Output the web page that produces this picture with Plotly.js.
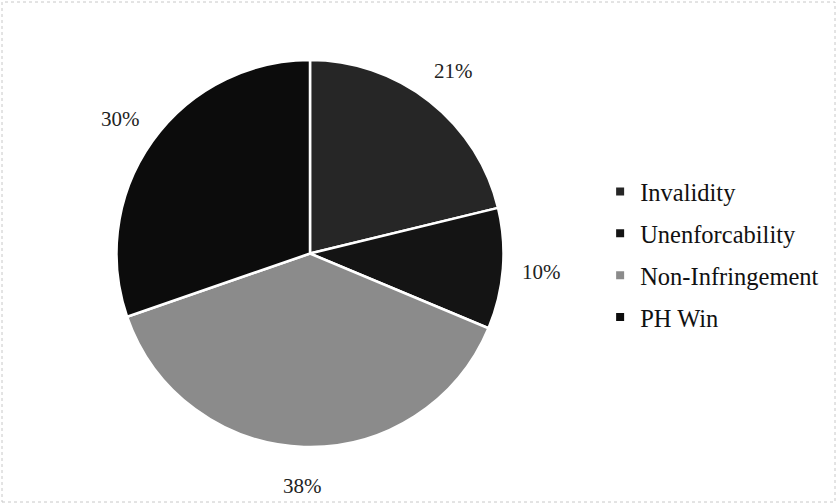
<!DOCTYPE html>
<html>
<head>
<meta charset="utf-8">
<script src="https://cdn.plot.ly/plotly-3.0.1.min.js"></script>
<style>html,body{margin:0;padding:0;background:#fff;}#chart{width:837px;height:504px;}</style>
</head>
<body>
<div id="chart"></div>
<script>
const categories = ["Invalidity", "Unenforcability", "Non-Infringement", "PH Win"];
const shares = [21, 10, 38, 30];
const sliceColors = ["#262626", "#141414", "#8b8b8b", "#0c0c0c"];

const W = 837, H = 504;
const cx = 310, cy = 253.5, R = 193.5;
const domX = [(cx - R) / W, (cx + R) / W];
const domY = [(H - cy - R) / H, (H - cy + R) / H];
const serif = "Liberation Serif, Times New Roman, serif";

const total = shares.reduce((a, b) => a + b, 0);
let cum = 0;
const labelR = R * 1.2;
const annotations = shares.map((v, i) => {
  const mid = (cum + v / 2) / total * 2 * Math.PI;
  cum += v;
  const px = cx + labelR * Math.sin(mid);
  const py = cy - labelR * Math.cos(mid);
  return {
    x: px / W, y: 1 - py / H, xref: "paper", yref: "paper",
    text: Math.round(v / total * 100) + "%",
    showarrow: false, xanchor: "center", yanchor: "middle",
    font: {family: serif, size: 21, color: "#222"}
  };
});

const pieTrace = {
  type: "pie",
  labels: categories,
  values: shares,
  sort: false,
  direction: "clockwise",
  rotation: 0,
  textinfo: "none",
  hoverinfo: "label+percent",
  showlegend: false,
  marker: {colors: sliceColors, line: {color: "#ffffff", width: 2.5}},
  domain: {x: domX, y: domY}
};

// legend entries (one per category) with square swatches
const legendTraces = categories.map((c, i) => ({
  type: "scatter", mode: "markers",
  x: [null], y: [null],
  name: c, legendgroup: "g" + i, showlegend: true,
  marker: {symbol: "square", size: 8, color: sliceColors[i]},
  hoverinfo: "skip"
}));

const layout = {
  width: W, height: H,
  margin: {l: 0, r: 0, t: 0, b: 0},
  paper_bgcolor: "#ffffff",
  plot_bgcolor: "rgba(0,0,0,0)",
  font: {family: serif},
  xaxis: {visible: false, showgrid: false, zeroline: false},
  yaxis: {visible: false, showgrid: false, zeroline: false},
  showlegend: true,
  legend: {
    x: 0.717, y: 0.495, xanchor: "left", yanchor: "middle",
    font: {family: serif, size: 24.5, color: "#111"},
    traceorder: "grouped",
    tracegroupgap: 7,
    itemwidth: 30
  },
  annotations: annotations,
  shapes: [{
    type: "rect", xref: "paper", yref: "paper",
    x0: 2 / W, x1: 1 - 2 / W, y0: 2 / H, y1: 1 - 2 / H,
    line: {color: "#c8c8c8", width: 1, dash: "dot"}
  }]
};

Plotly.newPlot("chart", [pieTrace].concat(legendTraces), layout, {staticPlot: true});
</script>
</body>
</html>
